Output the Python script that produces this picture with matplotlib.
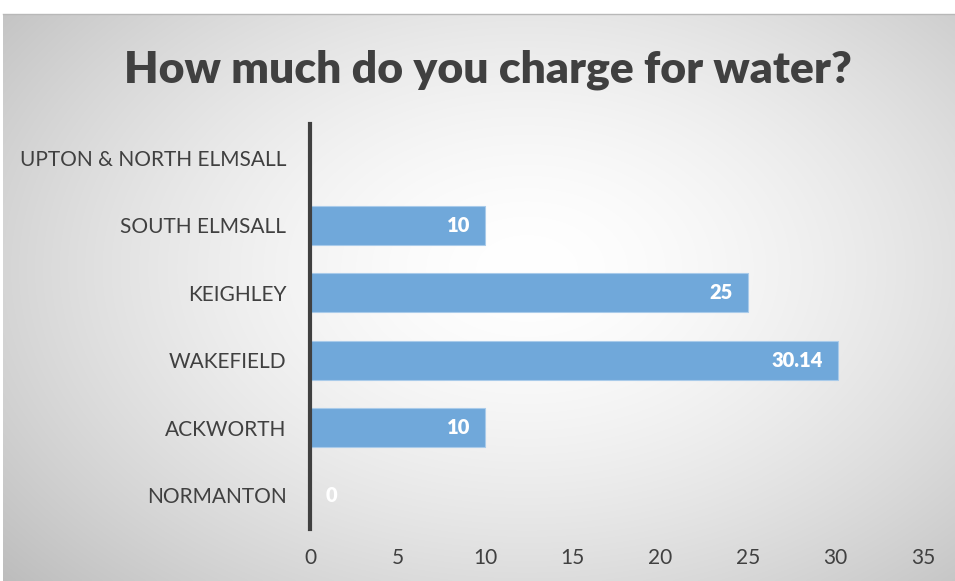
import numpy as np
import matplotlib
matplotlib.use('Agg')
import matplotlib.pyplot as plt

# данные
categories = ['NORMANTON', 'ACKWORTH', 'WAKEFIELD', 'KEIGHLEY', 'SOUTH ELMSALL', 'UPTON & NORTH ELMSALL']
charges = [0, 10, 30.14, 25, 10, np.nan]
value_labels = ['0', '10', '30.14', '25', '10', '']
x_ticks = [0, 5, 10, 15, 20, 25, 30, 35]

plt.rcParams['font.family'] = ['Lato', 'DejaVu Sans']

W, H = 955, 581
fig = plt.figure(figsize=(W / 100, H / 100), dpi=100)
fig.patch.set_facecolor('white')

# фон с радиальным градиентом
bg = fig.add_axes([3 / W, 0, (W - 3) / W, (H - 14) / H])
yy, xx = np.mgrid[0:1:300j, 0:1:500j]
r = np.sqrt(((xx - 0.55) / 0.75) ** 2 + ((yy - 0.45) / 0.85) ** 2)
shade = 1.0 - 0.27 * np.clip(r, 0, 1.3) ** 1.6
bg.imshow(np.dstack([shade] * 3), aspect='auto', extent=[0, 1, 0, 1], interpolation='bicubic')
bg.set_axis_off()
fig.add_artist(plt.Line2D([3 / W, 1], [(H - 14) / H] * 2, color='#b8b8b8', lw=1))

# основная область графика
left, right = 310 / W, 923 / W
top, bottom = 1 - 124 / H, 1 - 529 / H
ax = fig.add_axes([left, bottom, right - left, top - bottom])
ax.patch.set_alpha(0)

y = np.arange(len(categories))
bars = ax.barh(y, charges, height=0.58, color='#70a8da', edgecolor='#a9cbea', linewidth=0.8)

for i, (v, lab) in enumerate(zip(charges, value_labels)):
    if not lab:
        continue
    if v > 0:
        ax.annotate(lab, (v, i), xytext=(-11, 0), textcoords='offset points',
                    ha='right', va='center', color='white', fontsize=14.5, weight='heavy')
    else:
        ax.annotate(lab, (v, i), xytext=(11, 0), textcoords='offset points',
                    ha='left', va='center', color='white', fontsize=14.5, weight='heavy')

ax.set_xlim(0, 35)
ax.set_ylim(-0.5, len(categories) - 0.5)
ax.set_xticks(x_ticks)
ax.set_yticks(y)
ax.set_yticklabels(categories)
ax.tick_params(axis='both', length=0, labelsize=15, colors='#404040')
ax.tick_params(axis='x', pad=14)
ax.tick_params(axis='y', pad=17)

for s in ['top', 'right', 'bottom']:
    ax.spines[s].set_visible(False)
ax.spines['left'].set_color('#404040')
ax.spines['left'].set_linewidth(3)

fig.text(488 / W, 1 - 70 / H, 'How much do you charge for water?', ha='center', va='center',
         fontsize=32, weight='heavy', color='#404040')

fig.savefig('out.png', dpi=100)
